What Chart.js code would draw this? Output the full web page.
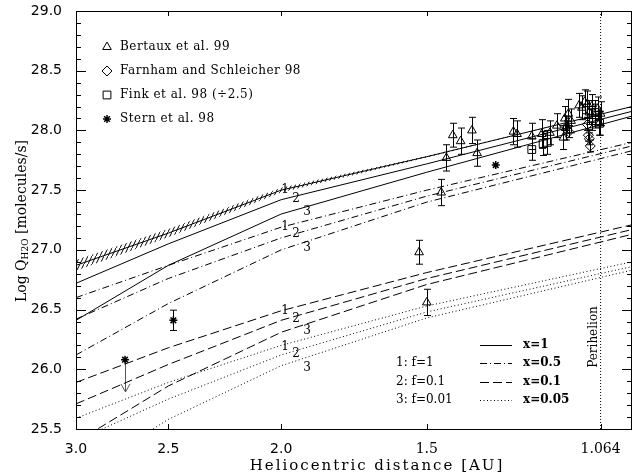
<!DOCTYPE html>
<html>
<head>
<meta charset="utf-8">
<script src="https://cdn.jsdelivr.net/npm/chart.js@4.4.0/dist/chart.umd.min.js"></script>
<style>
  html, body { margin: 0; padding: 0; background: #fff; }
  #wrap { width: 633px; height: 475px; }
</style>
</head>
<body>
<div id="wrap"><canvas id="waterChart" width="633" height="475"></canvas></div>
<script>
// model curves, log Q at these heliocentric distances
const modelR = [3.0, 2.5, 2.0, 1.5, 1.0];
const solidF1 = [26.87, 27.14, 27.50, 27.78, 28.20];
const solidF01 = [26.72, 27.05, 27.42, 27.72, 28.16];
const solidF001 = [26.41, 26.87, 27.30, 27.65, 28.12];
const dashdotF1 = [26.60, 26.87, 27.19, 27.50, 27.90];
const dashdotF01 = [26.42, 26.76, 27.10, 27.45, 27.87];
const dashdotF001 = [26.12, 26.55, 27.00, 27.40, 27.83];
const dashedF1 = [25.89, 26.18, 26.49, 26.81, 27.21];
const dashedF01 = [25.71, 26.04, 26.41, 26.76, 27.17];
const dashedF001 = [25.39, 25.86, 26.31, 26.71, 27.13];
const dottedF1 = [25.59, 25.89, 26.20, 26.53, 26.90];
const dottedF01 = [25.40, 25.75, 26.12, 26.48, 26.86];
const dottedF001 = [25.10, 25.58, 26.03, 26.43, 26.83];
// half width of the hatched band round the x=1, f=1 curve
const hatchHalf = [0.045, 0.035, 0.02, 0.006, 0.0];

// observations
const bertauxR = [1.523, 1.500, 1.458, 1.443, 1.425, 1.403, 1.372, 1.358, 1.264, 1.255, 1.219, 1.195, 1.176, 1.160, 1.145, 1.142, 1.140, 1.134, 1.128, 1.110, 1.104, 1.098, 1.092, 1.088, 1.083, 1.076, 1.070, 1.067, 1.064];
const bertauxQ = [26.98, 26.56, 27.48, 27.77, 27.96, 27.91, 28.00, 27.81, 27.99, 27.97, 27.95, 27.97, 27.98, 28.04, 27.94, 28.10, 28.02, 28.14, 28.08, 28.21, 28.19, 28.24, 28.22, 28.15, 28.20, 28.12, 28.18, 28.06, 28.14];
const bertauxErr = [0.10, 0.11, 0.11, 0.11, 0.10, 0.11, 0.11, 0.11, 0.11, 0.11, 0.11, 0.12, 0.10, 0.10, 0.10, 0.10, 0.10, 0.12, 0.10, 0.10, 0.10, 0.10, 0.11, 0.10, 0.10, 0.10, 0.10, 0.10, 0.10];
const farnhamR = [1.138, 1.133, 1.092, 1.090, 1.088, 1.086];
const farnhamQ = [28.03, 27.99, 28.05, 27.96, 27.93, 27.87];
const farnhamErr = [0.05, 0.05, 0.05, 0.05, 0.05, 0.05];
const finkR = [1.219, 1.192, 1.182, 1.083, 1.075, 1.066];
const finkQ = [27.84, 27.89, 27.90, 28.10, 28.15, 28.06];
const finkErr = [0.09, 0.10, 0.10, 0.10, 0.10, 0.10];
const sternR = [2.723, 2.475, 1.309];
const sternQ = [26.08, 26.41, 27.71];
const sternErr = [0, 0.085, 0];
const sternUpperLimit = [true, false, false];
const upperLimitDrop = 0.27;

const perihelionR = 1.064;
const xTickValues = [3.0, 2.5, 2.0, 1.5, 1.064];
const xTickLabels = ['3.0', '2.5', '2.0', '1.5', '1.064'];
const yTickValues = [25.5, 26.0, 26.5, 27.0, 27.5, 28.0, 28.5, 29.0];

// "1", "2", "3" tags next to each family of curves
const tagLabels = ['1', '2', '3'];
const tagR = [1.985, 1.942, 1.900];
const tagQSolid = [27.50, 27.425, 27.32];
const tagQDashdot = [27.19, 27.13, 27.02];
const tagQDashed = [26.485, 26.42, 26.32];
const tagQDotted = [26.19, 26.13, 26.01];

const DASH = { solid: [], dashdot: [7, 3, 1, 3], dashed: [9, 4], dotted: [1, 2.5] };
const SERIF = '"DejaVu Serif", serif';
const SANS = '"DejaVu Sans", sans-serif';

function pts(xs, ys) {
    return xs.map((x, i) => ({ x: x, y: ys[i] }));
}

function curve(values, dash) {
    return {
        data: pts(modelR, values),
        showLine: true,
        borderColor: '#000',
        borderWidth: 1,
        borderDash: dash,
        pointRadius: 0,
        fill: false,
        tension: 0
    };
}

function hatchPattern() {
    const c = document.createElement('canvas');
    c.width = 4;
    c.height = 8;
    const g = c.getContext('2d');
    g.strokeStyle = '#000';
    g.lineWidth = 1;
    g.beginPath();
    g.moveTo(0, 8);
    g.lineTo(4, 0);
    g.stroke();
    return g.createPattern(c, 'repeat');
}

const errorSets = [
    { r: bertauxR, q: bertauxQ, e: bertauxErr },
    { r: farnhamR, q: farnhamQ, e: farnhamErr },
    { r: finkR, q: finkQ, e: finkErr },
    { r: sternR, q: sternQ, e: sternErr }
];

function drawSymbol(c, style, x, y, radius, width) {
    if (Chart.helpers && Chart.helpers.drawPoint) {
        c.save();
        c.strokeStyle = '#000';
        c.fillStyle = 'rgba(0,0,0,0)';
        c.lineWidth = width;
        Chart.helpers.drawPoint(c, { pointStyle: style, radius: radius, rotation: 0, borderWidth: width }, x, y);
        c.restore();
    }
}

const decorations = {
    id: 'decorations',
    beforeDatasetsDraw(chart) {
        const c = chart.ctx;
        const xs = chart.scales.x, ys = chart.scales.y;
        c.save();
        c.strokeStyle = '#000';
        c.lineWidth = 1;
        errorSets.forEach(set => {
            set.r.forEach((r, i) => {
                const err = set.e[i];
                if (!err) return;
                const px = Math.round(xs.getPixelForValue(r)) + 0.5;
                const y1 = ys.getPixelForValue(set.q[i] - err);
                const y2 = ys.getPixelForValue(set.q[i] + err);
                c.beginPath();
                c.moveTo(px, y1); c.lineTo(px, y2);
                c.moveTo(px - 3.5, y1); c.lineTo(px + 3.5, y1);
                c.moveTo(px - 3.5, y2); c.lineTo(px + 3.5, y2);
                c.stroke();
            });
        });
        // upper-limit arrow
        c.strokeStyle = '#555';
        sternR.forEach((r, i) => {
            if (!sternUpperLimit[i]) return;
            const px = Math.round(xs.getPixelForValue(r)) + 0.5;
            const y0 = ys.getPixelForValue(sternQ[i]);
            const y1 = ys.getPixelForValue(sternQ[i] - upperLimitDrop);
            c.beginPath();
            c.moveTo(px, y0); c.lineTo(px, y1);
            c.moveTo(px - 4.5, y1 - 8); c.lineTo(px, y1); c.lineTo(px + 4.5, y1 - 8);
            c.stroke();
        });
        c.restore();
    },
    afterDraw(chart) {
        const c = chart.ctx;
        const { left, right, top, bottom } = chart.chartArea;
        const xs = chart.scales.x, ys = chart.scales.y;
        c.save();
        c.strokeStyle = '#000';
        c.lineWidth = 1;
        c.strokeRect(left + 0.5, top + 0.5, right - left - 1, bottom - top);

        // y ticks, both sides, minor every 0.1
        c.beginPath();
        for (let i = 255; i <= 290; i++) {
            const y = Math.round(ys.getPixelForValue(i / 10)) + 0.5;
            const len = i % 5 === 0 ? 10 : 5;
            c.moveTo(left, y); c.lineTo(left + len, y);
            c.moveTo(right, y); c.lineTo(right - len, y);
        }
        // x ticks, top and bottom
        xTickValues.forEach(v => {
            const x = Math.round(xs.getPixelForValue(v)) + 0.5;
            c.moveTo(x, bottom); c.lineTo(x, bottom - 5);
            c.moveTo(x, top); c.lineTo(x, top + 5);
        });
        c.stroke();

        c.fillStyle = '#000';
        // curve tags
        c.font = '12px ' + SERIF;
        c.textAlign = 'center';
        c.textBaseline = 'middle';
        [tagQSolid, tagQDashdot, tagQDashed, tagQDotted].forEach(qs => {
            qs.forEach((q, i) => {
                c.fillText(tagLabels[i], xs.getPixelForValue(tagR[i]), ys.getPixelForValue(q));
            });
        });

        // perihelion label
        c.save();
        c.translate(xs.getPixelForValue(perihelionR) - 7, 337);
        c.rotate(-Math.PI / 2);
        c.font = '12px ' + SERIF;
        c.fillText('Perihelion', 0, 0);
        c.restore();

        // symbol legend, upper left
        c.textAlign = 'left';
        c.font = '12px ' + SERIF;
        c.letterSpacing = '0.5px';
        const sym = [
            ['triangle', 5, 1, 'Bertaux et al. 99'],
            ['rectRot', 5, 1, 'Farnham and Schleicher 98'],
            ['rect', 5.5, 1, 'Fink et al. 98 (\u00f72.5)'],
            ['star', 4, 1.5, 'Stern et al. 98']
        ];
        sym.forEach((s, i) => {
            const y = 47 + i * 24;
            drawSymbol(c, s[0], 107, y, s[1], s[2]);
            c.fillText(s[3], 120, y);
        });
        c.letterSpacing = '0px';

        // line legend, lower right
        const rows = [
            ['solid', 'x=1', ''],
            ['dashdot', 'x=0.5', '1: f=1'],
            ['dashed', 'x=0.1', '2: f=0.1'],
            ['dotted', 'x=0.05', '3: f=0.01']
        ];
        rows.forEach((row, i) => {
            const y = 345 + i * 18.3;
            c.beginPath();
            c.setLineDash(DASH[row[0]]);
            c.moveTo(480, Math.round(y) + 0.5);
            c.lineTo(512, Math.round(y) + 0.5);
            c.stroke();
            c.setLineDash([]);
            c.font = 'bold 12px ' + SERIF;
            c.fillText(row[1], 523, y);
            c.font = '12px ' + SERIF;
            if (row[2]) c.fillText(row[2], 396, y);
        });

        // axis titles
        c.textAlign = 'center';
        c.font = '15px ' + SERIF;
        c.letterSpacing = '2px';
        c.fillText('Heliocentric distance [AU]', 377, 466);
        c.letterSpacing = '0px';

        c.save();
        c.translate(22, 221);
        c.rotate(-Math.PI / 2);
        const parts = [['Log Q', '14px ' + SERIF, 0], ['H2O', '9px ' + SERIF, 4], [' [molecules/s]', '14px ' + SERIF, 0]];
        let w = 0;
        parts.forEach(p => { c.font = p[1]; w += c.measureText(p[0]).width; });
        let tx = -w / 2;
        c.textAlign = 'left';
        parts.forEach(p => {
            c.font = p[1];
            c.fillText(p[0], tx, p[2]);
            tx += c.measureText(p[0]).width;
        });
        c.restore();
        c.restore();
    }
};

function buildChart() {
    const ctx = document.getElementById('waterChart').getContext('2d');
    const hatchLower = solidF1.map((v, i) => v - hatchHalf[i]);
    const hatchUpper = solidF1.map((v, i) => v + hatchHalf[i]);

    new Chart(ctx, {
        type: 'scatter',
        data: {
            datasets: [
                { data: pts(bertauxR, bertauxQ), pointStyle: 'triangle', pointRadius: 5, borderColor: '#000', backgroundColor: 'rgba(0,0,0,0)', borderWidth: 1 },
                { data: pts(farnhamR, farnhamQ), pointStyle: 'rectRot', pointRadius: 5, borderColor: '#000', backgroundColor: 'rgba(0,0,0,0)', borderWidth: 1 },
                { data: pts(finkR, finkQ), pointStyle: 'rect', pointRadius: 5.5, borderColor: '#000', backgroundColor: 'rgba(0,0,0,0)', borderWidth: 1 },
                { data: pts(sternR, sternQ), pointStyle: 'star', pointRadius: 4, borderColor: '#000', borderWidth: 1.5 },
                curve(solidF1, DASH.solid),
                curve(solidF01, DASH.solid),
                curve(solidF001, DASH.solid),
                curve(dashdotF1, DASH.dashdot),
                curve(dashdotF01, DASH.dashdot),
                curve(dashdotF001, DASH.dashdot),
                curve(dashedF1, DASH.dashed),
                curve(dashedF01, DASH.dashed),
                curve(dashedF001, DASH.dashed),
                curve(dottedF1, DASH.dotted),
                curve(dottedF01, DASH.dotted),
                curve(dottedF001, DASH.dotted),
                {
                    data: pts(modelR, hatchLower),
                    showLine: true, borderWidth: 0, pointRadius: 0, fill: false
                },
                {
                    data: pts(modelR, hatchUpper),
                    showLine: true, borderWidth: 0, pointRadius: 0,
                    fill: '-1', backgroundColor: hatchPattern()
                },
                {
                    data: [{ x: perihelionR, y: 25.5 }, { x: perihelionR, y: 29.0 }],
                    showLine: true, borderColor: '#000', borderWidth: 1, borderDash: [1, 2], pointRadius: 0
                }
            ]
        },
        options: {
            responsive: false,
            animation: false,
            layout: { autoPadding: false, padding: { top: 11, right: 1, left: 0, bottom: 0 } },
            plugins: {
                legend: { display: false },
                tooltip: { enabled: false }
            },
            scales: {
                x: {
                    type: 'logarithmic',
                    reverse: true,
                    min: 1.0,
                    max: 3.0,
                    bounds: 'data',
                    grid: { display: false },
                    border: { display: false },
                    afterBuildTicks: s => { s.ticks = xTickValues.map(v => ({ value: v })); },
                    afterFit: s => {
                        s.height = 46;
                        s.paddingLeft = 0;
                        s.paddingRight = 0;
                    },
                    ticks: {
                        autoSkip: false,
                        maxRotation: 0,
                        padding: 4,
                        color: '#000',
                        font: c => ({ family: (c.tick && c.tick.value < 1.8) ? SERIF : SANS, size: 14 }),
                        callback: (v, i) => xTickLabels[i]
                    }
                },
                y: {
                    min: 25.5,
                    max: 29.0,
                    grid: { display: false },
                    border: { display: false },
                    afterBuildTicks: s => { s.ticks = yTickValues.map(v => ({ value: v })); },
                    afterFit: s => {
                        s.width = 76;
                        s.paddingTop = 0;
                        s.paddingBottom = 0;
                    },
                    ticks: {
                        padding: 6,
                        color: '#000',
                        font: { family: SANS, size: 14 },
                        callback: v => Number(v).toFixed(1)
                    }
                }
            }
        },
        plugins: [decorations]
    });
}

const fontLoads = ['14px "DejaVu Sans"', '14px "DejaVu Serif"', 'bold 12px "DejaVu Serif"'].map(f => document.fonts.load(f));
Promise.all(fontLoads).then(buildChart, buildChart);
</script>
</body>
</html>
